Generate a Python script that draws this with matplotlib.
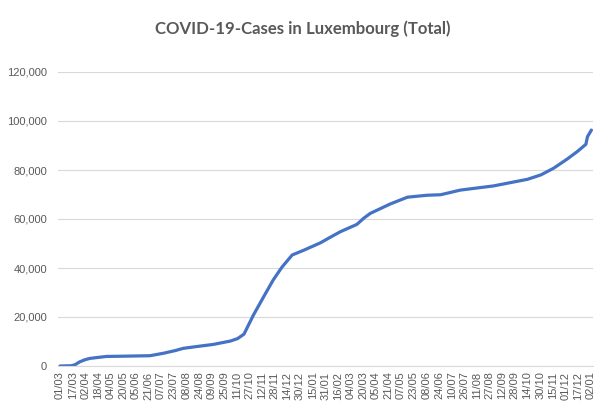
import pandas as pd
import matplotlib
matplotlib.use("Agg")
import matplotlib.pyplot as plt
import matplotlib.dates as mdates
from matplotlib.ticker import FuncFormatter

# values (cumulative cases)
DATES = [
    "2020-03-01", "2020-03-15", "2020-03-20", "2020-03-26", "2020-04-02",
    "2020-04-08", "2020-04-18", "2020-04-29", "2020-05-20", "2020-06-23",
    "2020-07-10", "2020-07-25", "2020-08-04", "2020-08-20", "2020-09-11",
    "2020-10-03", "2020-10-12", "2020-10-20", "2020-11-01", "2020-11-14",
    "2020-11-26", "2020-12-07", "2020-12-20", "2021-01-04", "2021-01-25",
    "2021-02-06", "2021-02-19", "2021-03-12", "2021-03-21", "2021-03-29",
    "2021-04-23", "2021-05-15", "2021-06-09", "2021-06-26", "2021-07-21",
    "2021-09-01", "2021-09-28", "2021-10-14", "2021-10-31", "2021-11-16",
    "2021-12-03", "2021-12-16", "2021-12-27", "2021-12-29", "2022-01-03",
]
CASES = [
    0, 100, 500, 1700, 2600,
    3100, 3500, 3900, 4000, 4200,
    5200, 6300, 7200, 7900, 8800,
    10200, 11200, 13000, 20800, 28300,
    35100, 40300, 45300, 47300, 50300,
    52500, 54800, 57800, 60400, 62300,
    66100, 68900, 69700, 69900, 71800,
    73500, 75200, 76200, 78000, 80700,
    84400, 87500, 90500, 93600, 96300,
]

TITLE = "COVID-19-Cases in Luxembourg (Total)"
TICK_START = "2020-03-01"
TICK_END = "2022-01-02"
TICK_STEP_DAYS = 16

GREY_TEXT = "#595959"
GRID = "#d9d9d9"
LINE = "#4472C4"

plt.rcParams["font.family"] = ["Liberation Sans", "DejaVu Sans"]

dates = pd.to_datetime(DATES)
ticks = pd.date_range(TICK_START, TICK_END, freq=f"{TICK_STEP_DAYS}D")

fig = plt.figure(figsize=(6.06, 4.11), dpi=100)
ax = fig.add_axes([58 / 606, 45 / 411, 535 / 606, 294 / 411])

ax.plot(dates, CASES, color=LINE, lw=2.3, solid_capstyle="round",
        solid_joinstyle="round")

ax.set_ylim(0, 120000)
ax.set_yticks(range(0, 120001, 20000))
ax.yaxis.set_major_formatter(FuncFormatter(lambda v, p: f"{int(v):,}"))
ax.set_xlim(pd.Timestamp("2020-02-27 12:00"), pd.Timestamp("2022-01-05"))
ax.set_xticks(ticks)
ax.xaxis.set_major_formatter(mdates.DateFormatter("%d/%m"))

ax.grid(axis="y", color=GRID, lw=0.8)
ax.set_axisbelow(True)
for side in ["top", "right", "left"]:
    ax.spines[side].set_visible(False)
ax.spines["bottom"].set_color(GRID)
ax.spines["bottom"].set_linewidth(0.8)

ax.tick_params(axis="y", length=0, pad=8, labelsize=8, labelcolor=GREY_TEXT)
ax.tick_params(axis="x", length=0, pad=4, labelsize=8, labelcolor=GREY_TEXT,
               labelrotation=90)

fig.text(0.5, 1 - 29 / 411, TITLE, ha="center", va="center",
         fontsize=12.1, fontweight="bold", color=GREY_TEXT,
         family=["Lato", "DejaVu Sans"])

fig.savefig("out.png", dpi=100)
